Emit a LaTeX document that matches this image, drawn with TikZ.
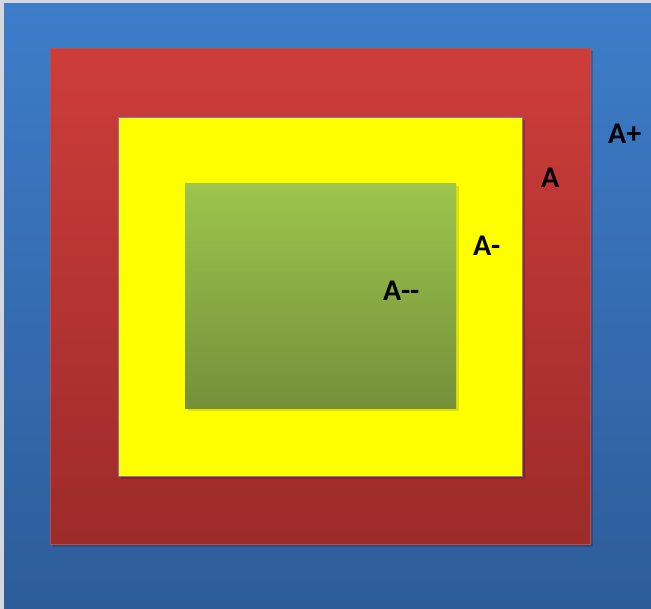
\documentclass[tikz,border=0pt]{standalone}
\usepackage{fontspec}
\setmainfont{Carlito}
\definecolor{blueT}{HTML}{3D7DC9}
\definecolor{blueB}{HTML}{2D5C99}
\definecolor{redT}{HTML}{CD3D3A}
\definecolor{redB}{HTML}{9C2B29}
\definecolor{redE}{HTML}{C24A47}
\definecolor{yel}{HTML}{FFFF00}
\definecolor{yelE}{HTML}{8A74B0}
\definecolor{grT}{HTML}{9DC54C}
\definecolor{grB}{HTML}{74903A}
\definecolor{edgeG}{HTML}{D4D8DE}
\tikzset{
  lbl/.style={anchor=base west,inner sep=0pt,font=\bfseries\fontsize{30}{30}\selectfont,text=black},
  box/.style={inner sep=0pt,anchor=north west},
  shd/.style={fill=black,fill opacity=0.18}
}
\begin{document}
\begin{tikzpicture}[x=1pt,y=-1pt]
\useasboundingbox (0,0) rectangle (651,609);
\fill[edgeG] (0,0) rectangle (651,609);
\shade[top color=blueT,bottom color=blueB] (4,4) rectangle (651,609);
% soft shadows
\fill[shd] (53,51) rectangle (593,547);
\node[box,draw=redE,line width=1pt,top color=redT,bottom color=redB,minimum width=540pt,minimum height=496pt] (red) at (50,48) {};
\fill[shd] (121,120) rectangle (525,479);
\node[box,draw=yelE,line width=0.8pt,fill=yel,minimum width=404pt,minimum height=359pt] (yellow) at (118,117) {};
\fill[shd,fill opacity=0.12] (188,186) rectangle (459,411);
\node[box,top color=grT,bottom color=grB,minimum width=271pt,minimum height=225pt] (green) at (185,183) {};
\node[lbl] (lAp) at (608,144) {A+};
\node[lbl] (lA) at (541,188) {A};
\node[lbl] (lAm) at (473,256) {A-};
\node[lbl] (lAmm) at (383,301) {A-{}-};
\end{tikzpicture}
\end{document}
